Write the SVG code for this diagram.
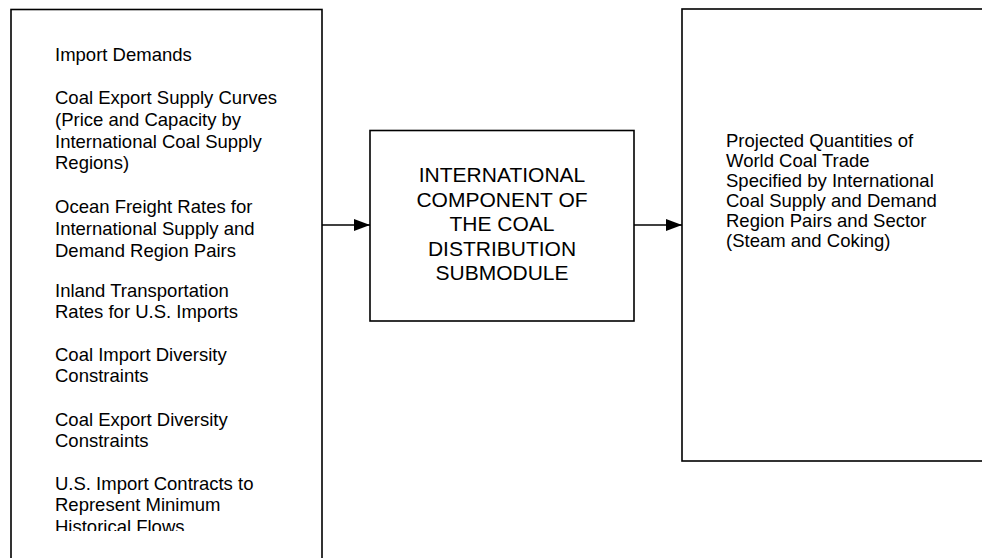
<svg xmlns="http://www.w3.org/2000/svg" width="982" height="558" viewBox="0 0 982 558">
<style>
.box{fill:#fff;stroke:#000;stroke-width:1.6}
.t{font-family:"Liberation Sans",Arial,sans-serif;font-size:18.5px;fill:#000}
.m{font-family:"Liberation Sans",Arial,sans-serif;font-size:21px;fill:#000;text-anchor:middle}
.c{stroke:#000;stroke-width:1.6;fill:none}
</style>
<defs>
<marker id="ah" markerWidth="16" markerHeight="12" refX="16" refY="6" orient="auto" markerUnits="userSpaceOnUse">
<path d="M0,0 L16,6 L0,12 Z" fill="#000"/>
</marker>
<clipPath id="clipL"><rect x="11" y="9" width="311" height="522"/></clipPath>
</defs>
<rect width="982" height="558" fill="#fff"/>
<g id="inputs">
<rect class="box" x="11" y="9.5" width="311" height="560"/>
<g clip-path="url(#clipL)">
<text class="t" x="55" y="61">Import Demands</text>
<text class="t" x="55" y="104">Coal Export Supply Curves</text>
<text class="t" x="55" y="126">(Price and Capacity by</text>
<text class="t" x="55" y="147.5">International Coal Supply</text>
<text class="t" x="55" y="168.5">Regions)</text>
<text class="t" x="55" y="213">Ocean Freight Rates for</text>
<text class="t" x="55" y="235">International Supply and</text>
<text class="t" x="55" y="256.5">Demand Region Pairs</text>
<text class="t" x="55" y="297">Inland Transportation</text>
<text class="t" x="55" y="318">Rates for U.S. Imports</text>
<text class="t" x="55" y="361">Coal Import Diversity</text>
<text class="t" x="55" y="382">Constraints</text>
<text class="t" x="55" y="426">Coal Export Diversity</text>
<text class="t" x="55" y="446.5">Constraints</text>
<text class="t" x="55" y="489.5">U.S. Import Contracts to</text>
<text class="t" x="55" y="510.5">Represent Minimum</text>
<text class="t" x="55" y="533">Historical Flows</text>
</g>
</g>
<g id="component">
<rect class="box" x="370" y="130.5" width="264" height="190.5"/>
<text class="m" x="502" y="182">INTERNATIONAL</text>
<text class="m" x="502" y="206.5">COMPONENT OF</text>
<text class="m" x="502" y="231">THE COAL</text>
<text class="m" x="502" y="255.5">DISTRIBUTION</text>
<text class="m" x="502" y="280">SUBMODULE</text>
</g>
<g id="outputs">
<rect class="box" x="682" y="9" width="320" height="452"/>
<text class="t" x="726" y="146.7">Projected Quantities of</text>
<text class="t" x="726" y="166.7">World Coal Trade</text>
<text class="t" x="726" y="186.7">Specified by International</text>
<text class="t" x="726" y="206.7">Coal Supply and Demand</text>
<text class="t" x="726" y="226.7">Region Pairs and Sector</text>
<text class="t" x="726" y="246.7">(Steam and Coking)</text>
</g>
<g id="connectors">
<line class="c" x1="322" y1="225" x2="370" y2="225" marker-end="url(#ah)"/>
<line class="c" x1="634" y1="225" x2="682" y2="225" marker-end="url(#ah)"/>
</g>
</svg>
